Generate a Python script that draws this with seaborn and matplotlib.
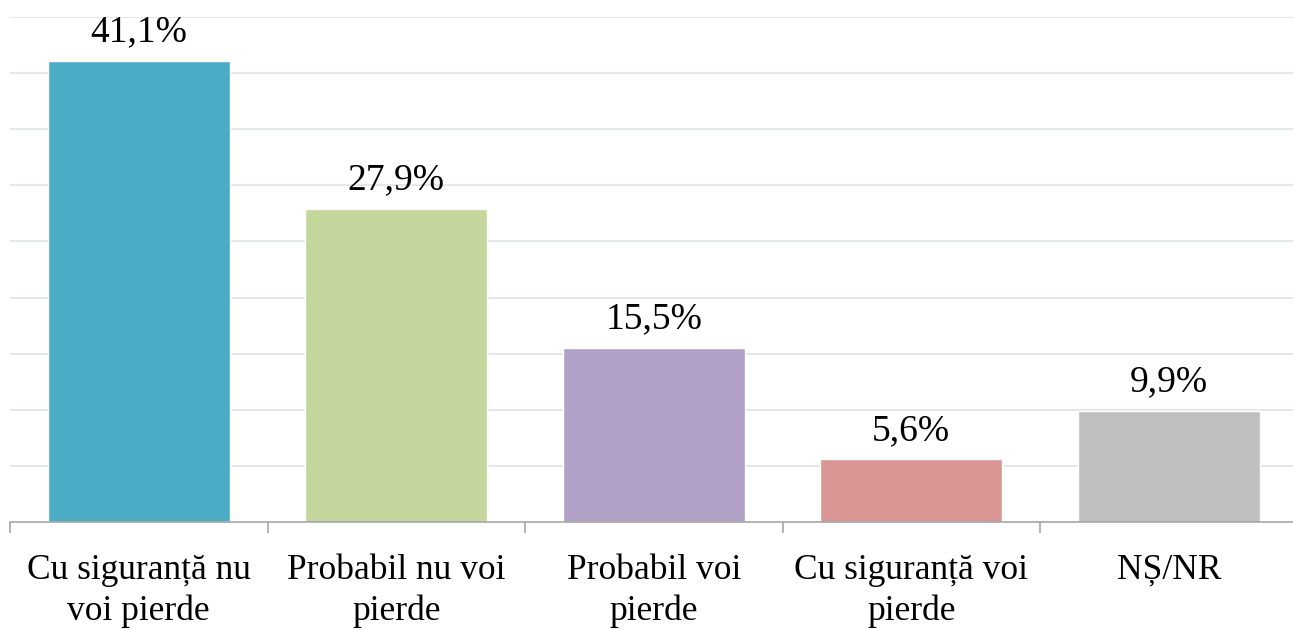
import numpy as np
import pandas as pd
import matplotlib
matplotlib.use('Agg')
import matplotlib.pyplot as plt
import seaborn as sns

# Data
categories = ['Cu siguranță nu\nvoi pierde', 'Probabil nu voi\npierde',
              'Probabil voi\npierde', 'Cu siguranță voi\npierde', 'NȘ/NR']
values = [41.1, 27.9, 15.5, 5.6, 9.9]
value_labels = ['41,1%', '27,9%', '15,5%', '5,6%', '9,9%']
colors = ['#4BACC6', '#C3D69B', '#B2A1C7', '#D99694', '#BFBFBF']

sns.set_style('white')
plt.rcParams['font.family'] = ['Liberation Serif', 'DejaVu Serif']

df = pd.DataFrame({'cat': categories, 'val': values})

fig = plt.figure(figsize=(12.93, 6.29), dpi=100)
ax = fig.add_axes([10 / 1293, 107 / 629, 1287.5 / 1293, 505 / 629])

sns.barplot(data=df, x='cat', y='val', hue='cat', palette=colors,
            width=0.707, legend=False, saturation=1, ax=ax)

ax.set_ylim(0, 45)
ax.set_xlim(-0.5, len(categories) - 0.5)
ax.set_yticks(np.arange(5, 50, 5))
ax.yaxis.grid(True, color='#DCE4EF', linewidth=1.2)
ax.set_axisbelow(True)
ax.tick_params(axis='y', left=False, labelleft=False)

for s in ['top', 'right', 'left']:
    ax.spines[s].set_visible(False)
ax.spines['bottom'].set_color('#A6A6A6')
ax.spines['bottom'].set_linewidth(1.2)

ax.set_xticks(range(len(categories)))
ax.set_xticklabels(categories, fontsize=25.5, linespacing=1.28, color='black')
ax.tick_params(axis='x', which='major', length=0, pad=23)
ax.set_xticks(np.arange(-0.5, len(categories), 1), minor=True)
ax.tick_params(axis='x', which='minor', bottom=True, length=8, width=1.2,
               color='#A6A6A6', direction='out')

ax.set_xlabel('')
ax.set_ylabel('')

for i, (v, lab) in enumerate(zip(values, value_labels)):
    ax.annotate(lab, (i, v), xytext=(0, 14), textcoords='offset points',
                ha='center', va='baseline', fontsize=27, color='black')

fig.savefig('out.png', dpi=100)
